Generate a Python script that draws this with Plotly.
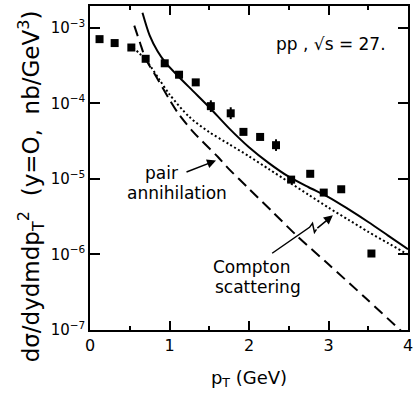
import numpy as np
import plotly.graph_objects as go

# ---- data ----
pt_data = [0.12, 0.31, 0.52, 0.70, 0.94, 1.12, 1.33, 1.52, 1.77, 1.93, 2.14, 2.34, 2.53, 2.77, 2.94, 3.16, 3.54]
sigma_data = [7.1e-4, 6.3e-4, 5.5e-4, 3.9e-4, 3.4e-4, 2.4e-4, 1.9e-4, 9.2e-5, 7.4e-5, 4.2e-5,
              3.6e-5, 2.8e-5, 9.8e-6, 1.17e-5, 6.6e-6, 7.3e-6, 1.03e-6]
err_up = [0, 0, 0, 0, 0, 0, 0, 1.8e-5, 1.5e-5, 0, 0, 0.55e-5, 0, 0, 0, 0, 0]
err_dn = [0, 0, 0, 0, 0, 0, 0, 1.5e-5, 1.2e-5, 0, 0, 0.45e-5, 0, 0, 0, 0, 0]

pt_total = [0.66, 0.75, 0.85, 0.95, 1.1, 1.3, 1.5, 1.75, 2.0, 2.25, 2.5, 2.75, 3.0, 3.25, 3.5, 3.75, 4.0]
log_total = [-2.80, -3.10, -3.31, -3.46, -3.63, -3.84, -4.05, -4.33, -4.58, -4.79, -4.97, -5.11,
             -5.24, -5.40, -5.57, -5.75, -5.93]

pt_compton = [0.54, 0.70, 0.87, 1.0, 1.25, 1.5, 1.75, 2.0, 2.25, 2.5, 2.75, 3.0, 3.25, 3.5, 3.75, 4.0]
log_compton = [-3.26, -3.42, -3.68, -3.88, -4.18, -4.38, -4.54, -4.70, -4.87, -5.04, -5.21, -5.38,
               -5.54, -5.70, -5.85, -6.00]

pt_pair = [0.557, 0.63, 0.70, 0.83, 1.0, 1.115, 1.3, 1.61, 1.73, 2.0, 2.3, 2.6, 3.0, 3.47, 3.9, 4.0]
log_pair = [-2.97, -3.20, -3.41, -3.64, -3.95, -4.14, -4.38, -4.71, -4.85, -5.13, -5.44, -5.75,
            -6.13, -6.58, -7.0, -7.1]

x_ticks = [0, 1, 2, 3, 4]
y_tick_exp = [-7, -6, -5, -4, -3]

FONT = "DejaVu Sans"
W, H = 417, 395
ML, MR, MT, MB = 90, 4, 5, 65
PW, PH = W - ML - MR, H - MT - MB


def P(px, py):
    return (px - ML) / PW, (H - MB - py) / PH


fig = go.Figure()

fig.add_trace(go.Scatter(x=pt_total, y=[10 ** v for v in log_total], mode="lines",
                         line=dict(color="black", width=2, shape="spline", smoothing=0.8), hoverinfo="skip"))
fig.add_trace(go.Scatter(x=pt_compton, y=[10 ** v for v in log_compton], mode="lines",
                         line=dict(color="black", width=2, dash="2px,2.5px", shape="spline", smoothing=0.8),
                         hoverinfo="skip"))
fig.add_trace(go.Scatter(x=pt_pair, y=[10 ** v for v in log_pair], mode="lines",
                         line=dict(color="black", width=2, dash="11px,6px", shape="spline", smoothing=0.8),
                         hoverinfo="skip"))
fig.add_trace(go.Scatter(x=pt_data, y=sigma_data, mode="markers",
                         marker=dict(symbol="square", size=8, color="black"),
                         error_y=dict(type="data", symmetric=False, array=err_up, arrayminus=err_dn,
                                      color="black", thickness=2, width=0)))

# squiggly leader for the Compton arrow
pts = [(275, 253), (313, 227), (316, 223), (318, 232), (320, 229)]
path = "M " + " L ".join(f"{P(a, b)[0]:.4f},{P(a, b)[1]:.4f}" for a, b in pts)
fig.add_shape(type="path", path=path, xref="paper", yref="paper",
              line=dict(color="black", width=1.5))

annots = [
    dict(x=2.316, y=-3.211, text="pp , √s = 27.", xanchor="left", size=17),
    dict(x=0.904, y=-4.927, text="pair", xanchor="center", size=17),
    dict(x=1.09, y=-5.191, text="annihilation", xanchor="center", size=17),
    dict(x=1.523, y=-6.168, text="Compton", xanchor="left", size=17),
    dict(x=1.548, y=-6.432, text="scattering", xanchor="left", size=17),
]
for a in annots:
    fig.add_annotation(x=a["x"], y=a["y"], xref="x", yref="y", text=a["text"], showarrow=False,
                       xanchor=a["xanchor"], yanchor="middle", font=dict(family=FONT, size=a["size"], color="black"))

fig.add_annotation(x=1.585, y=-4.756, xref="x", yref="y", text="", showarrow=True, ax=-31, ay=12,
                   arrowhead=2, arrowsize=1.2, arrowwidth=1.5, arrowcolor="black")
fig.add_annotation(x=3.055, y=-5.482, xref="x", yref="y", text="", showarrow=True, ax=-17, ay=14,
                   arrowhead=2, arrowsize=1.2, arrowwidth=1.5, arrowcolor="black")

# y-axis title (placed as rotated text, like the original which sits a bit below centre)
tx, ty = P(30, 186)
fig.add_annotation(x=tx, y=ty, xref="paper", yref="paper", showarrow=False, textangle=-90,
                   xanchor="center", yanchor="middle",
                   text="dσ/dydmdp<sub>T</sub><sup>2</sup>  (y=O,  nb/GeV<sup>3</sup>)",
                   font=dict(family=FONT, size=23, color="black"))

fig.update_layout(
    width=W, height=H, margin=dict(l=ML, r=MR, t=MT, b=MB),
    paper_bgcolor="white", plot_bgcolor="white", showlegend=False,
    font=dict(family=FONT, color="black"),
)
fig.update_xaxes(range=[0, 4], showgrid=False, zeroline=False, showline=True, linecolor="black", linewidth=1.5,
                 mirror="allticks", ticks="inside", ticklen=9, tickwidth=1.5, tickcolor="black",
                 tickvals=x_ticks, ticktext=[str(v) for v in x_ticks], tickfont=dict(size=16),
                 minor=dict(dtick=0.5, ticks="inside", ticklen=4, tickwidth=1.5, tickcolor="black"),
                 title=dict(text="p<sub>T</sub> (GeV)", font=dict(size=18), standoff=17))
fig.update_yaxes(type="log", range=[-7, -2.71], showgrid=False, zeroline=False, showline=True,
                 linecolor="black", linewidth=1.5, mirror="allticks", ticks="inside", ticklen=10,
                 tickwidth=1.5, tickcolor="black",
                 tickvals=[10.0 ** e for e in y_tick_exp],
                 ticktext=[f"10<sup>−{-e}</sup>" for e in y_tick_exp], tickfont=dict(size=15))

fig.write_html("out.html")
